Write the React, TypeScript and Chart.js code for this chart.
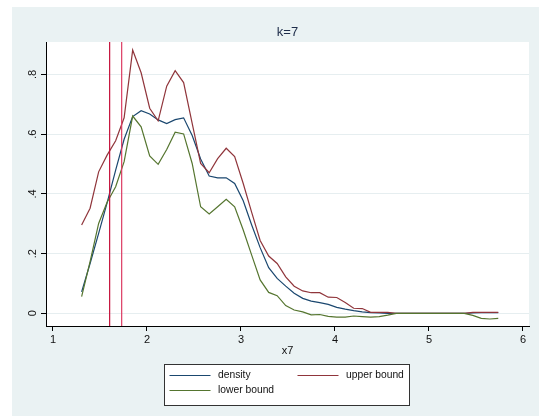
import React, { useEffect, useRef } from 'react';
import { Chart, registerables } from 'chart.js';

Chart.register(...registerables);

// ---- data ----
const chartTitle = 'k=7';
const xAxisTitle = 'x7';
const seriesNames = ['density', 'upper bound', 'lower bound'];

const xGrid = [
  1.305, 1.395, 1.486, 1.576, 1.667, 1.757, 1.848, 1.938, 2.029, 2.119,
  2.210, 2.300, 2.390, 2.481, 2.571, 2.662, 2.752, 2.843, 2.933, 3.024,
  3.114, 3.204, 3.295, 3.385, 3.476, 3.566, 3.657, 3.747, 3.838, 3.928,
  4.019, 4.109, 4.199, 4.290, 4.380, 4.471, 4.561, 4.652, 4.742, 4.833,
  4.923, 5.013, 5.104, 5.194, 5.285, 5.375, 5.466, 5.556, 5.647, 5.737,
];

const density = [
  0.072, 0.167, 0.268, 0.370, 0.480, 0.583, 0.659, 0.679, 0.668, 0.648,
  0.636, 0.649, 0.655, 0.596, 0.517, 0.460, 0.454, 0.454, 0.435, 0.377,
  0.296, 0.220, 0.153, 0.117, 0.091, 0.067, 0.050, 0.041, 0.036, 0.030,
  0.020, 0.014, 0.009, 0.005, 0.002, 0.001, 0.000, 0.000, 0.000, 0.000,
  0.000, 0.000, 0.000, 0.000, 0.000, 0.000, 0.001, 0.002, 0.002, 0.002,
];

const upperBound = [
  0.296, 0.352, 0.474, 0.530, 0.578, 0.655, 0.882, 0.806, 0.687, 0.645,
  0.761, 0.813, 0.773, 0.636, 0.502, 0.471, 0.518, 0.553, 0.525, 0.435,
  0.338, 0.244, 0.192, 0.167, 0.122, 0.091, 0.075, 0.069, 0.069, 0.054,
  0.053, 0.036, 0.017, 0.016, 0.003, 0.003, 0.003, 0.000, 0.000, 0.000,
  0.000, 0.000, 0.000, 0.000, 0.000, 0.000, 0.003, 0.003, 0.003, 0.003,
];

const lowerBound = [
  0.056, 0.173, 0.301, 0.372, 0.424, 0.508, 0.661, 0.625, 0.527, 0.499,
  0.549, 0.607, 0.601, 0.502, 0.357, 0.333, 0.357, 0.382, 0.357, 0.279,
  0.195, 0.112, 0.070, 0.059, 0.026, 0.011, 0.005, -0.005, -0.004, -0.010,
  -0.013, -0.013, -0.009, -0.011, -0.013, -0.011, -0.006, 0.000, 0.000, 0.000,
  0.000, 0.000, 0.000, 0.000, 0.000, 0.000, -0.007, -0.017, -0.019, -0.017,
];

const xLines = [1.603, 1.731];
const xTicks = [1, 2, 3, 4, 5, 6];
const yTicks = [0, 0.2, 0.4, 0.6, 0.8];
const X_MIN = 0.926;
const X_MAX = 6.064;
const Y_MIN = -0.0425;
const Y_MAX = 0.909;

// ---- styles ----
const FONT = '"Liberation Sans", Arial, sans-serif';
const BLUE = '#1a476f';
const RED = '#90353b';
const GREEN = '#55752f';
const VLINE_COLORS = ['#c4103a', '#dc3a62'];
const BG = '#eaf2f3';

export default function App() {
  const ref = useRef<HTMLCanvasElement>(null);

  useEffect(() => {
    if (!ref.current) return;
    const pts = (ys: number[]) => xGrid.map((x, i) => ({ x, y: ys[i] }));

    const bgPlugin = {
      id: 'stataBg',
      beforeDraw(chart: any) {
        const { ctx, width, height, chartArea: a } = chart;
        ctx.save();
        ctx.fillStyle = '#ffffff';
        ctx.fillRect(0, 0, width, height);
        ctx.fillStyle = BG;
        ctx.fillRect(12, 7, width - 12, height - 7);
        ctx.fillStyle = '#ffffff';
        ctx.fillRect(a.left, a.top, a.right - a.left, a.bottom - a.top);
        ctx.restore();
      },
    };

    const colors = [BLUE, RED, GREEN];
    const legendPlugin = {
      id: 'boxLegend',
      afterDraw(chart: any) {
        const { ctx, chartArea: a } = chart;
        // title centred over the plot region
        ctx.save();
        ctx.font = `13px ${FONT}`;
        ctx.fillStyle = '#1e2d4a';
        ctx.textAlign = 'center';
        ctx.textBaseline = 'middle';
        ctx.fillText(chartTitle, (a.left + a.right) / 2, 32);
        ctx.restore();

        const bw = 245;
        const bh = 41;
        const bx = 164.5;
        const by = 364.5;
        ctx.save();
        ctx.fillStyle = '#ffffff';
        ctx.fillRect(bx, by, bw, bh);
        ctx.strokeStyle = '#333333';
        ctx.lineWidth = 1;
        ctx.strokeRect(bx, by, bw, bh);
        const cells = [
          { dx: 5, dy: 11 },
          { dx: 133, dy: 11 },
          { dx: 5, dy: 26 },
        ];
        ctx.font = `10.3px ${FONT}`;
        ctx.textBaseline = 'middle';
        ctx.textAlign = 'left';
        seriesNames.forEach((name, i) => {
          const c = cells[i];
          const x0 = bx + c.dx;
          const y0 = by + c.dy;
          ctx.strokeStyle = colors[i];
          ctx.lineWidth = 1.2;
          ctx.beginPath();
          ctx.moveTo(x0, y0);
          ctx.lineTo(x0 + 41, y0);
          ctx.stroke();
          ctx.fillStyle = '#111111';
          ctx.fillText(name, x0 + 48.5, y0);
        });
        ctx.restore();
      },
    };

    const lineDs = (label: string, ys: number[], color: string, order: number) => ({
      label,
      data: pts(ys),
      borderColor: color,
      backgroundColor: color,
      borderWidth: 1.2,
      pointRadius: 0,
      tension: 0,
      fill: false,
      order,
    });

    const vlineDs = xLines.map((xv, i) => ({
      label: `xline${i}`,
      data: [
        { x: xv, y: Y_MIN },
        { x: xv, y: Y_MAX },
      ],
      borderColor: VLINE_COLORS[i],
      borderWidth: 1.2,
      pointRadius: 0,
      fill: false,
      order: 0,
    }));

    const chart = new Chart(ref.current, {
      type: 'line',
      data: {
        datasets: [
          ...vlineDs,
          lineDs(seriesNames[0], density, BLUE, 3),
          lineDs(seriesNames[1], upperBound, RED, 2),
          lineDs(seriesNames[2], lowerBound, GREEN, 1),
        ] as any,
      },
      options: {
        animation: false,
        responsive: false,
        devicePixelRatio: 1,
        layout: { padding: { top: 42, left: 0, right: 10, bottom: 58 } },
        plugins: {
          legend: { display: false },
          tooltip: { enabled: false },
          title: { display: false },
        },
        scales: {
          x: {
            type: 'linear',
            min: X_MIN,
            max: X_MAX,
            afterBuildTicks(scale: any) {
              scale.ticks = xTicks.map((v) => ({ value: v }));
            },
            afterFit(scale: any) {
              scale.height = 32;
            },
            ticks: {
              color: '#111111',
              font: { family: FONT, size: 11 },
              padding: 2,
              maxRotation: 0,
              callback: (v: any) => String(v),
            },
            grid: {
              drawOnChartArea: false,
              drawTicks: true,
              tickLength: 5,
              tickColor: '#000000',
            },
            border: { display: true, color: '#000000', width: 1 },
            title: {
              display: true,
              text: xAxisTitle,
              color: '#111111',
              font: { family: FONT, size: 11 },
              padding: { top: 0, bottom: 0 },
            },
          },
          y: {
            type: 'linear',
            min: Y_MIN,
            max: Y_MAX,
            afterBuildTicks(scale: any) {
              scale.ticks = yTicks.map((v) => ({ value: v }));
            },
            afterFit(scale: any) {
              scale.width = 46;
            },
            ticks: {
              color: '#111111',
              font: { family: FONT, size: 11 },
              padding: 3,
              minRotation: 90,
              maxRotation: 90,
              crossAlign: 'center',
              callback: (v: any) => (v === 0 ? '0' : Number(v).toFixed(1).replace(/^0\./, '.')),
            },
            grid: {
              color: '#e6eef0',
              lineWidth: 1,
              drawTicks: true,
              tickLength: 5,
              tickColor: '#000000',
            },
            border: { display: true, color: '#000000', width: 1 },
          },
        },
      } as any,
      plugins: [bgPlugin, legendPlugin],
    });

    return () => chart.destroy();
  }, []);

  return (
    <div style={{ position: 'absolute', left: 0, top: 0, width: 539, height: 416 }}>
      <canvas ref={ref} width={539} height={416} style={{ display: 'block', width: 539, height: 416 }} />
    </div>
  );
}
